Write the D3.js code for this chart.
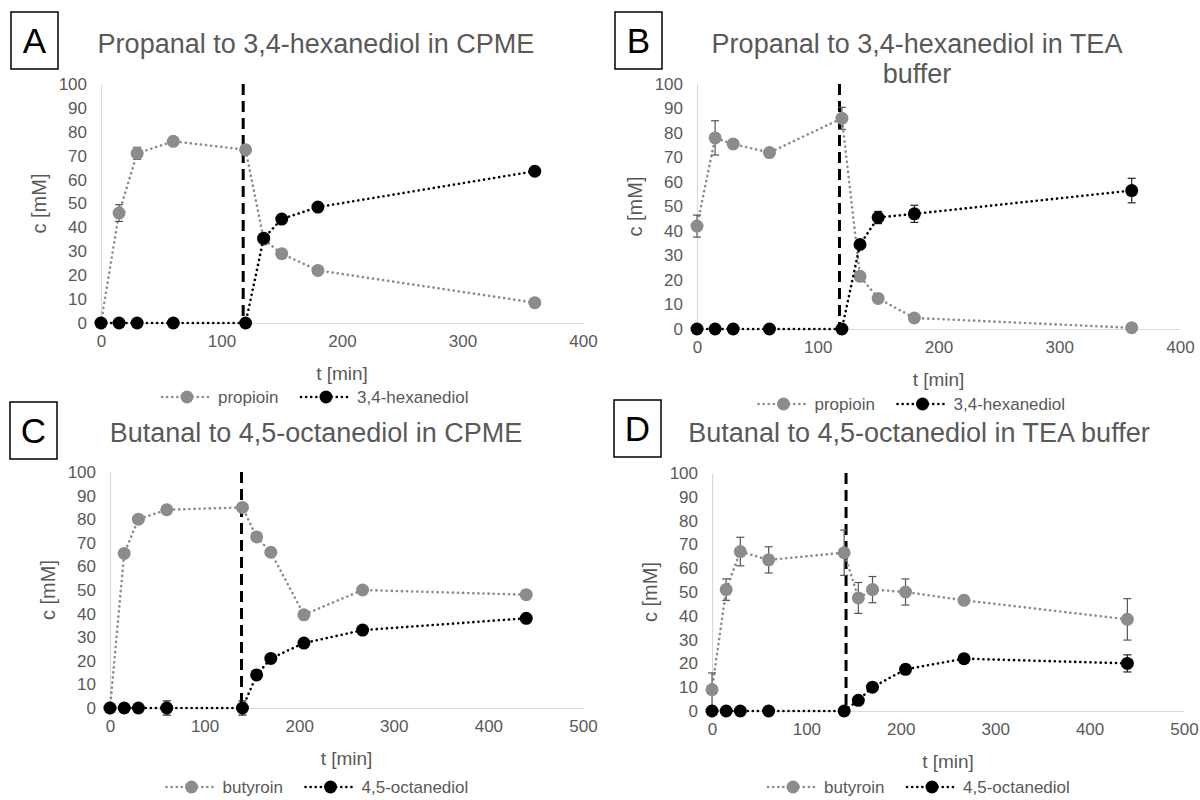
<!DOCTYPE html>
<meta charset="utf-8">
<title>Aldehyde to diol cascades</title>
<script src="https://cdn.jsdelivr.net/npm/d3@7"></script>
<style>
  body { margin: 0; background: #fff; }
  text { font-family: "Liberation Sans", Arial, sans-serif; }
</style>
<body>
<script>

// ---- data ----
var timesAB = [0, 15, 30, 60, 120, 135, 150, 180, 360];
var timesCD = [0, 15, 30, 60, 140, 155, 170, 205, 267, 440];

var propioinA    = [0, 46, 71, 76, 72.5, 35, 29, 22, 8.5];
var propioinAErr = [0, 3.5, 2.5, 1, 1, 1, 1, 1, 1];
var hexanediolA    = [0, 0, 0, 0, 0, 35.5, 43.5, 48.5, 63.5];
var hexanediolAErr = [0, 0, 0, 0, 0, 0.5, 0.5, 0.5, 0.5];

var propioinB    = [42, 78, 75.5, 72, 86, 21.5, 12.5, 4.5, 0.5];
var propioinBErr = [4.5, 7, 1, 1.5, 4.5, 1, 1, 1, 0.5];
var hexanediolB    = [0, 0, 0, 0, 0, 34.5, 45.5, 47, 56.5];
var hexanediolBErr = [0, 0, 0, 0, 0, 1.5, 2.5, 3.5, 5];

var butyroinC    = [0, 65.5, 80, 84, 85, 72.5, 66, 39.5, 50, 48];
var butyroinCErr = [0, 1, 1, 1, 1, 1, 1, 1, 1, 1];
var octanediolC    = [0, 0, 0, 0, 0, 14, 21, 27.5, 33, 38];
var octanediolCErr = [0.5, 0, 0, 3, 3, 1, 1, 1, 1, 1];

var butyroinD    = [9, 51, 67, 63.5, 66.5, 47.5, 51, 50, 46.5, 38.5];
var butyroinDErr = [7, 4.5, 6, 5.5, 9.5, 6.5, 5.5, 5.5, 1, 8.7];
var octanediolD    = [0, 0, 0, 0, 0, 4.5, 10, 17.5, 22, 20];
var octanediolDErr = [0, 0, 0, 0, 0, 1, 1, 2, 1, 3.6];

// time at which the second enzyme was added (dashed line)
var switchTimes = [118, 118, 139, 142];

var panelLetters = ["A", "B", "C", "D"];
var panelTitles = [
  ["Propanal to 3,4-hexanediol in CPME"],
  ["Propanal to 3,4-hexanediol in TEA", "buffer"],
  ["Butanal to 4,5-octanediol in CPME"],
  ["Butanal to 4,5-octanediol in TEA buffer"]
];
var seriesNamesAB = ["propioin", "3,4-hexanediol"];
var seriesNamesCD = ["butyroin", "4,5-octanediol"];
var xMaxes = [400, 400, 500, 500];
var yTicks = d3.range(0, 101, 10);

// ---- layout ----
var grey = "#8c8c8c", ink = "#595959", axisGrey = "#d9d9d9";

var panels = [
  { box: [11, 12], left: 101, right: 583, top: 84, bottom: 323, titleX: 316, titleY: 53, legY: 397,
    times: timesAB, a: propioinA, aErr: propioinAErr, b: hexanediolA, bErr: hexanediolAErr, names: seriesNamesAB },
  { box: [615, 12], left: 697, right: 1180, top: 84, bottom: 329, titleX: 917, titleY: 53, legY: 404,
    times: timesAB, a: propioinB, aErr: propioinBErr, b: hexanediolB, bErr: hexanediolBErr, names: seriesNamesAB },
  { box: [10, 402], left: 110, right: 583, top: 472, bottom: 708, titleX: 316, titleY: 442, legY: 787,
    times: timesCD, a: butyroinC, aErr: butyroinCErr, b: octanediolC, bErr: octanediolCErr, names: seriesNamesCD },
  { box: [614, 400], left: 712, right: 1184, top: 473, bottom: 711, titleX: 919, titleY: 442, legY: 787,
    times: timesCD, a: butyroinD, aErr: butyroinDErr, b: octanediolD, bErr: octanediolDErr, names: seriesNamesCD }
];

var svg = d3.select("body").append("svg")
    .attr("width", 1200)
    .attr("height", 800);

panels.forEach(function (p, i) {
  var g = svg.append("g");
  var x = d3.scaleLinear().domain([0, xMaxes[i]]).range([p.left, p.right]);
  var y = d3.scaleLinear().domain([0, 100]).range([p.bottom, p.top]);

  // letter box
  g.append("rect")
    .attr("x", p.box[0]).attr("y", p.box[1])
    .attr("width", 47).attr("height", 57)
    .attr("fill", "none").attr("stroke", "#000").attr("stroke-width", 1.5);
  g.append("text")
    .attr("x", p.box[0] + 23.5).attr("y", p.box[1] + 41)
    .attr("text-anchor", "middle")
    .style("font-size", "35px").attr("fill", "#000")
    .text(panelLetters[i]);

  // title
  panelTitles[i].forEach(function (line, k) {
    g.append("text")
      .attr("x", p.titleX).attr("y", p.titleY + k * 30)
      .attr("text-anchor", "middle")
      .style("font-size", "27px").attr("fill", ink)
      .text(line);
  });

  // axes
  var yAxis = g.append("g")
    .attr("transform", "translate(" + p.left + ",0)")
    .call(d3.axisLeft(y).tickValues(yTicks).tickSize(0).tickPadding(14));
  var xAxis = g.append("g")
    .attr("transform", "translate(0," + p.bottom + ")")
    .call(d3.axisBottom(x).ticks(xMaxes[i] / 100).tickSize(0).tickPadding(12));
  [xAxis, yAxis].forEach(function (ax) {
    ax.select(".domain").attr("stroke", axisGrey).attr("stroke-width", 1.2);
    ax.selectAll("text").style("font-size", "17px").attr("fill", ink);
  });

  g.append("text")
    .attr("x", (p.left + p.right) / 2).attr("y", p.bottom + 57)
    .attr("text-anchor", "middle")
    .style("font-size", "19px").attr("fill", ink)
    .text("t [min]");
  g.append("text")
    .attr("transform", "translate(" + (p.left - 55) + "," + ((p.top + p.bottom) / 2) + ") rotate(-90)")
    .attr("text-anchor", "middle")
    .style("font-size", "20px").attr("fill", ink)
    .text("c [mM]");

  // dashed line where the second step starts
  g.append("line")
    .attr("x1", x(switchTimes[i])).attr("x2", x(switchTimes[i]))
    .attr("y1", y(100)).attr("y2", y(0))
    .attr("stroke", "#000").attr("stroke-width", 3)
    .attr("stroke-dasharray", "11,6");

  // series
  var series = [
    { vals: p.a, err: p.aErr, color: grey, bar: "#555" },
    { vals: p.b, err: p.bErr, color: "#000", bar: "#222" }
  ];
  var line = d3.line()
    .x(function (d) { return x(d[0]); })
    .y(function (d) { return y(d[1]); });

  series.forEach(function (s) {
    var pts = p.times.map(function (t, j) { return [t, s.vals[j], s.err[j]]; });
    g.append("path")
      .datum(pts)
      .attr("d", line)
      .attr("fill", "none")
      .attr("stroke", s.color).attr("stroke-width", 2.6)
      .attr("stroke-linecap", "round")
      .attr("stroke-dasharray", "0.1,5");

    var eb = g.append("g").selectAll("g")
      .data(pts.filter(function (d) { return d[2] > 0; }))
      .join("g")
      .attr("stroke", s.bar).attr("stroke-width", 1.2);
    eb.append("line")
      .attr("x1", function (d) { return x(d[0]); })
      .attr("x2", function (d) { return x(d[0]); })
      .attr("y1", function (d) { return y(d[1] - d[2]); })
      .attr("y2", function (d) { return y(d[1] + d[2]); });
    [-1, 1].forEach(function (sgn) {
      eb.append("line")
        .attr("x1", function (d) { return x(d[0]) - 4; })
        .attr("x2", function (d) { return x(d[0]) + 4; })
        .attr("y1", function (d) { return y(d[1] + sgn * d[2]); })
        .attr("y2", function (d) { return y(d[1] + sgn * d[2]); });
    });

    g.append("g").selectAll("circle")
      .data(pts)
      .join("circle")
      .attr("cx", function (d) { return x(d[0]); })
      .attr("cy", function (d) { return y(d[1]); })
      .attr("r", 6.5)
      .attr("fill", s.color);
  });

  // legend
  var cx = (p.left + p.right) / 2;
  var items = [
    { x: cx - 180, color: grey, name: p.names[0] },
    { x: cx - 41, color: "#000", name: p.names[1] }
  ];
  items.forEach(function (it) {
    g.append("line")
      .attr("x1", it.x).attr("x2", it.x + 50)
      .attr("y1", p.legY).attr("y2", p.legY)
      .attr("stroke", it.color).attr("stroke-width", 2.6)
      .attr("stroke-linecap", "round")
      .attr("stroke-dasharray", "0.1,5");
    g.append("circle")
      .attr("cx", it.x + 25).attr("cy", p.legY).attr("r", 6.5)
      .attr("fill", it.color);
    g.append("text")
      .attr("x", it.x + 56).attr("y", p.legY + 6)
      .style("font-size", "17px").attr("fill", ink)
      .text(it.name);
  });
});

</script>
</body>
